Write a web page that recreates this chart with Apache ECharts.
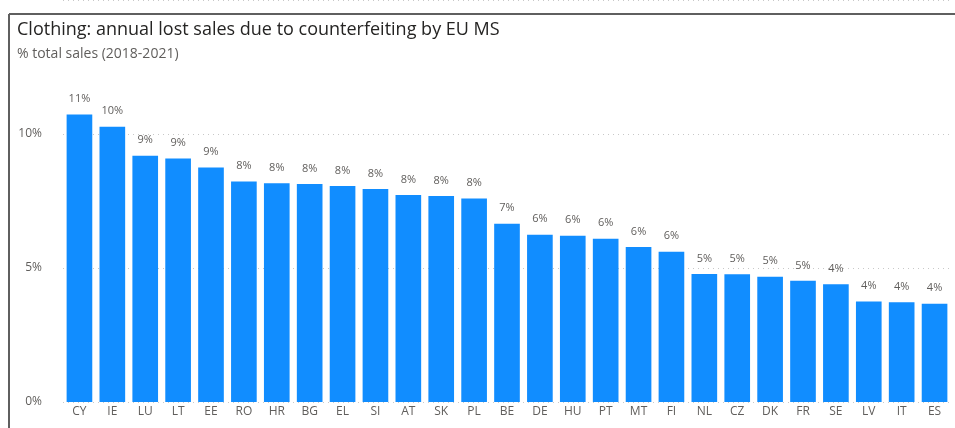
<!DOCTYPE html>
<html>
<head>
<meta charset="utf-8">
<script src="https://cdn.jsdelivr.net/npm/echarts@6/dist/echarts.min.js"></script>
<style>html,body{margin:0;padding:0;background:#fff;}#c{width:955px;height:428px;}</style>
</head>
<body>
<div id="c"></div>
<script>
const categories = ['CY','IE','LU','LT','EE','RO','HR','BG','EL','SI','AT','SK','PL','BE','DE','HU','PT','MT','FI','NL','CZ','DK','FR','SE','LV','IT','ES'];
const values = [10.73,10.27,9.19,9.09,8.75,8.23,8.16,8.13,8.06,7.95,7.72,7.69,7.59,6.65,6.24,6.20,6.09,5.78,5.61,4.78,4.77,4.67,4.52,4.39,3.75,3.72,3.67];
const yTicks = [0,5,10];
const titleText = 'Clothing: annual lost sales due to counterfeiting by EU MS';
const subtitleText = '% total sales (2018-2021)';

const chart = echarts.init(document.getElementById('c'), null, {renderer:'canvas'});
chart.setOption({
  animation:false,
  backgroundColor:'#fff',
  title:[{
    text:titleText,
    left:12, top:15,
    textStyle:{fontFamily:'Open Sans', fontSize:18, fontWeight:'normal', color:'#252423', lineHeight:20}
  },{
    text:subtitleText,
    left:12, top:41,
    textStyle:{fontFamily:'Open Sans', fontSize:14, fontWeight:'normal', color:'#605E5C', lineHeight:16}
  }],
  graphic:[
    {type:'line', shape:{x1:9,y1:14,x2:955,y2:14}, style:{stroke:'#5f5f5f', lineWidth:2}},
    {type:'line', shape:{x1:9,y1:14,x2:9,y2:428}, style:{stroke:'#5f5f5f', lineWidth:2}}
  ],
  grid:{left:63, right:4, top:-4, bottom:26, containLabel:false},
  xAxis:{
    type:'category',
    data:categories,
    axisLine:{show:false},
    axisTick:{show:false},
    axisLabel:{fontFamily:'Open Sans', fontSize:12, color:'#605E5C', margin:4, interval:0}
  },
  yAxis:{
    type:'value',
    min:0, max:15, interval:5,
    axisLine:{show:false},
    axisTick:{show:false},
    axisLabel:{
      fontFamily:'Open Sans', fontSize:12, color:'#605E5C', margin:21,
      formatter:function(v){ return yTicks.indexOf(v) >= 0 ? v + '%' : ''; }
    },
    splitLine:{lineStyle:{color:'#c8c8c8', width:1, type:[1,4]}}
  },
  series:[{
    type:'bar',
    data:values,
    barCategoryGap:'22%',
    itemStyle:{color:'#118DFF'},
    label:{
      show:true, position:'top', distance:10,
      fontFamily:'Open Sans', fontSize:11, color:'#605E5C',
      formatter:function(p){ return Math.round(p.value) + '%'; }
    }
  }]
});
</script>
</body>
</html>
